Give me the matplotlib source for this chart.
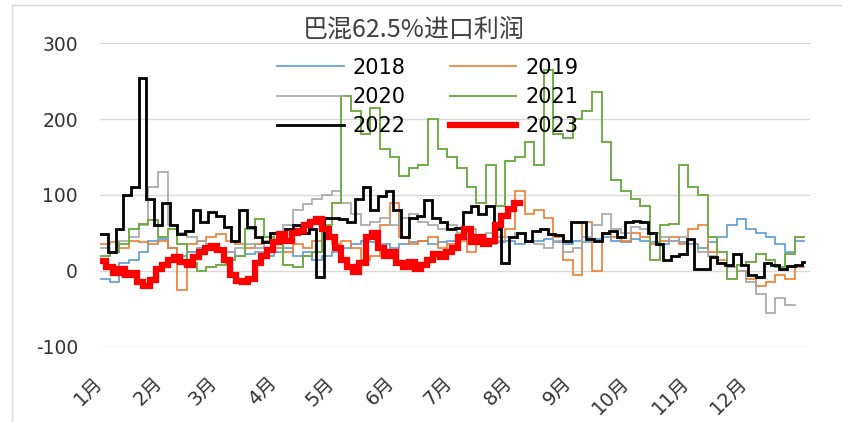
import numpy as np
import matplotlib
matplotlib.use("Agg")
import matplotlib.pyplot as plt
from matplotlib.lines import Line2D

plt.rcParams['font.family'] = ['DejaVu Sans', 'Noto Sans CJK SC']
plt.rcParams['axes.unicode_minus'] = False

title = "巴混62.5%进口利润"
month_labels = ["1月", "2月", "3月", "4月", "5月", "6月",
                "7月", "8月", "9月", "10月", "11月", "12月"]
month_start_days = [0, 31, 59, 90, 120, 151, 181, 212, 243, 273, 304, 334]

# values sampled every 5 days (2018-2021), 4 days (2022), ~3.2 days (2023)
y2018 = [-10, -15, 10, 15, 25, 40, 42, 30, 20, 25,
         30, 35, 28, 25, 20, 22, 25, 20, 25, 30,
         20, 25, 15, 20, 25, 30, 35, 40, 38, 35,
         30, 35, 38, 40, 35, 38, 40, 42, 38, 40,
         35, 38, 40, 35, 38, 40, 42, 38, 35, 40,
         38, 42, 45, 40, 38, 42, 40, 38, 35, 40,
         38, 35, 30, 38, 45, 60, 68, 55, 50, 45,
         35, 25, 40]
y2019 = [35, 38, 30, 40, 38, 35, 40, 30, -25, 35,
         40, 45, 48, 40, 35, 30, 35, 40, 30, 25,
         35, 30, 40, 45, 35, 40, 30, 15, 20, 60,
         90, 45, 35, 40, 45, 30, 35, 40, 25, 35,
         40, 45, 55, 105, 75, 80, 70, 45, 15, -5,
         65, 0, 50, 45, 40, 50, 45, 35, 40, 45,
         35, 55, 60, 25, 15, 5, 0, -10, -20, -15,
         -5, -10, 5]
y2020 = [30, 25, 40, 45, 60, 110, 130, 60, 50, 45,
         40, 35, 30, 25, 30, 35, 30, 40, 50, 60,
         80, 88, 95, 100, 105, 90, 75, 60, 65, 70,
         60, 70, 75, 65, 60, 55, 60, 50, 55, 45,
         50, 40, 45, 50, 40, 35, 30, 40, 25, 30,
         45, 60, 75, 55, 50, 58, 55, 50, 45, 40,
         45, 35, 25, 20, 10, 5, 0, -15, -30, -55,
         -35, -45]
y2021 = [20, 25, 35, 55, 62, 67, 45, 55, 35, 10,
         0, 5, 8, 15, 20, 55, 68, 45, 35, 8,
         5, 20, 25, 60, 90, 230, 210, 180, 215, 160,
         150, 125, 135, 140, 200, 160, 150, 135, 110, 90,
         140, 85, 145, 150, 170, 140, 265, 180, 175, 200,
         210, 235, 170, 120, 105, 95, 85, 15, 60, 62,
         140, 110, 100, 45, 25, -10, 8, 12, 22, 15,
         5, 22, 45]
y2022 = [48, 25, 55, 100, 110, 254, 95, 60, 90, 60,
         48, 52, 80, 65, 78, 72, 58, 40, 80, 58,
         45, 38, 50, 45, 55, 60, 50, 55, -8, 70,
         70, 68, 65, 95, 110, 80, 98, 105, 80, 45,
         70, 72, 93, 70, 65, 55, 56, 78, 85, 75,
         85, 55, 10, 45, 50, 40, 52, 55, 48, 47,
         40, 65, 65, 42, 40, 50, 52, 45, 65, 66,
         64, 50, 35, 15, 20, 22, 42, 3, 2, 18,
         10, 8, 22, 8, -5, -8, 10, 8, 2, 6,
         8, 12]
y2023 = [13, 5, -3, 2, -5, -3, -15, -20, -12, 2,
         8, 15, 18, 12, 8, 18, 25, 30, 33, 28,
         15, -5, -13, -15, -10, 10, 20, 28, 38, 48,
         40, 50, 52, 60, 65, 68, 55, 45, 30, 15,
         5, -2, 10, 45, 50, 30, 20, 25, 10, 5,
         12, 2, 8, 15, 22, 18, 25, 30, 45, 55,
         38, 45, 35, 40, 60, 72, 82, 90]

series = [
    ("2018", y2018, 5, "#5B9BD5", 1.2),
    ("2019", y2019, 5, "#ED7D31", 1.2),
    ("2020", y2020, 5, "#A5A5A5", 1.2),
    ("2021", y2021, 5, "#70AD47", 1.4),
    ("2022", y2022, 4, "#000000", 2.0),
    ("2023", y2023, 3.2, "#FF0000", 4.5),
]


def stepped(vals, step):
    d = np.arange(len(vals) + 1) * step
    d = np.minimum(d, 365)
    v = np.append(vals, vals[-1])
    return d, v


fig = plt.figure(figsize=(8.42, 4.22), dpi=100)
ax = fig.add_axes([0.119, 0.178, 0.843, 0.720])

handles = {}
for name, vals, step, color, lw in series:
    d, v = stepped(vals, step)
    line, = ax.plot(d, v, drawstyle='steps-post', color=color, lw=lw,
                    label=name, solid_joinstyle='miter')
    handles[name] = line

ax.set_xlim(0, 368)
ax.set_ylim(-100, 300)
ax.set_yticks([-100, 0, 100, 200, 300])
ax.set_xticks(month_start_days)
ax.set_xticklabels(month_labels, rotation=45, ha='right', va='center',
                   rotation_mode='anchor', fontsize=14, color='#333333')
ax.tick_params(axis='y', length=0, pad=16, labelsize=13.5, labelcolor='#333333')
ax.tick_params(axis='x', length=0, pad=24)
ax.grid(axis='y', color='#D9D9D9', lw=1)
ax.set_axisbelow(True)
for s in ax.spines.values():
    s.set_visible(False)

order = ["2018", "2020", "2022", "2019", "2021", "2023"]
ax.legend([handles[k] for k in order], order, ncol=2, loc='upper left',
          bbox_to_anchor=(0.249, 0.952), frameon=False, fontsize=15,
          borderpad=0, borderaxespad=0, handlelength=3.2, handletextpad=0.45,
          columnspacing=2.1, labelspacing=0.45)

fig.text(414 / 842, 1 - 30 / 422, title, ha='center', va='center',
         fontsize=18, family=['Noto Sans CJK SC'], color='#404040')

# chart area border
fig.add_artist(Line2D([12 / 842, 1], [1 - 5 / 422, 1 - 5 / 422],
                      transform=fig.transFigure, color='#D9D9D9', lw=1))
fig.add_artist(Line2D([12 / 842, 12 / 842], [0, 1 - 5 / 422],
                      transform=fig.transFigure, color='#D9D9D9', lw=1))

plt.savefig("out.png", dpi=100)
